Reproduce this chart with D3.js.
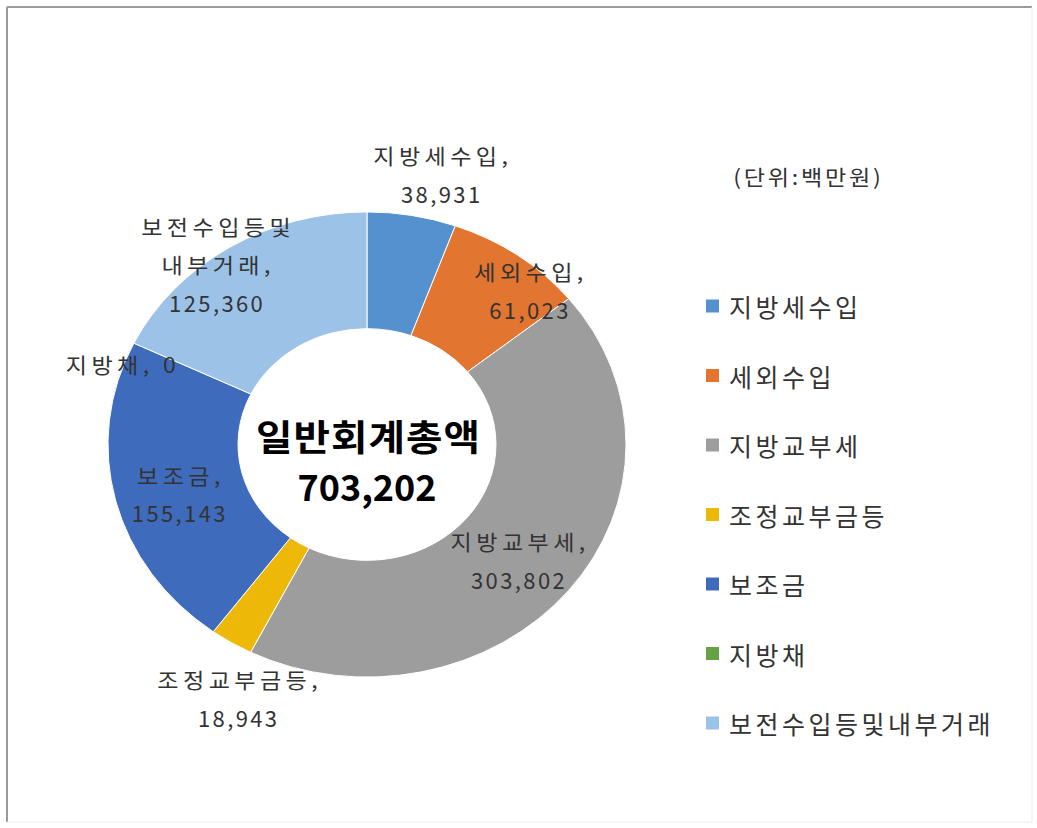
<!DOCTYPE html>
<html><head><meta charset="utf-8">
<script src="https://cdn.jsdelivr.net/npm/d3@7"></script>
<style>body{margin:0;background:#fff} svg{display:block}</style>
</head><body><svg id="c" width="1037" height="828"></svg>
<script>
const categories = ["지방세수입","세외수입","지방교부세","조정교부금등","보조금","지방채","보전수입등및내부거래"];
const values = [38931, 61023, 303802, 18943, 155143, 0, 125360];
const labelNames = [["지방세수입,"],["세외수입,"],["지방교부세,"],["조정교부금등,"],["보조금,"],["지방채,"],["보전수입등및","내부거래,"]];
const colors = ["#5591CF","#E27530","#9D9D9D","#EEB808","#3F6BBC","#66A244","#9CC2E8"];
const centerTitle = "일반회계총액";
const unitLabel = "(단위:백만원)";

const W = 1037, H = 828;
const svg = d3.select("#c");
const FONT = "'Noto Sans CJK KR','Noto Sans',sans-serif";
const fmt = d3.format(",");
const total = d3.sum(values);
const SX = 1.1; // horizontal stretch seen in the reference text

// frame
svg.append("line").attr("x1",7).attr("y1",7).attr("x2",1032).attr("y2",7).attr("stroke","#9a9a9a").attr("stroke-width",2);
svg.append("line").attr("x1",7).attr("y1",7).attr("x2",7).attr("y2",822).attr("stroke","#9a9a9a").attr("stroke-width",2);
svg.append("line").attr("x1",1032).attr("y1",7).attr("x2",1032).attr("y2",822).attr("stroke","#ececec").attr("stroke-width",1);
svg.append("line").attr("x1",7).attr("y1",822).attr("x2",1032).attr("y2",822).attr("stroke","#ececec").attr("stroke-width",1);

// donut geometry (reference is horizontally stretched -> vertical squash factor)
const cx = 367, cy = 444.5, R = 259, r0 = 129, ky = 0.898;
const pie = d3.pie().sort(null).value(d => d).startAngle(0).endAngle(2*Math.PI);
const arcs = pie(values);
const arc = d3.arc().innerRadius(r0).outerRadius(R);

const g = svg.append("g").attr("transform", `translate(${cx},${cy}) scale(1,${ky})`);
g.selectAll("path").data(arcs.filter(d => d.value > 0)).join("path")
  .attr("d", arc)
  .attr("fill", d => colors[d.index])
  .attr("stroke", "#fff").attr("stroke-width", 1)
  .attr("vector-effect","non-scaling-stroke");

function stretchedText(x, y, str, size, ls, sx, anchor, fill, weight) {
  const shift = anchor === "middle" ? ls*sx/2 : 0;
  return svg.append("text")
    .attr("transform", `translate(${x + shift},${y}) scale(${sx},1)`)
    .attr("text-anchor", anchor).attr("dominant-baseline","central")
    .attr("font-family", FONT).attr("font-size", size)
    .attr("font-weight", weight || "normal")
    .attr("letter-spacing", ls).attr("fill", fill).text(str);
}

// data labels (anchored to each slice's centroid, shifted like Excel best-fit)
const labelShift = [[40,-99],[49,-13],[0,6],[-28,105],[0,7],[-13,20],[-48,-33]];
const step = 38;
arcs.forEach((d, i) => {
  let bx, by;
  if (d.value > 0) {
    const c = arc.centroid(d);
    bx = cx + c[0]; by = cy + c[1]*ky;
  } else {
    const a = d.startAngle;
    bx = cx + R*Math.sin(a); by = cy - R*Math.cos(a)*ky;
  }
  const mx = bx + labelShift[i][0], my = by + labelShift[i][1];
  let lines;
  if (d.value === 0) lines = [{t: labelNames[i][0] + " " + fmt(d.value), num:false}];
  else lines = labelNames[i].map(t => ({t, num:false})).concat([{t: fmt(d.value), num:true}]);
  const n = lines.length;
  lines.forEach((ln, k) => {
    const y = my + (k - (n-1)/2)*step;
    if (ln.num) stretchedText(mx, y, ln.t, 22, 2.4, 1, "middle", "#333");
    else stretchedText(mx, y, ln.t, 21, 4, SX, "middle", "#333");
  });
});

// center text
stretchedText(cx + 1, 435, centerTitle, 36, 1, SX, "middle", "#000", "bold");
stretchedText(cx, 485, fmt(total), 36, 0, 1, "middle", "#000", "bold");

// unit label
stretchedText(807, 175, unitLabel, 21, 2.5, SX, "middle", "#333");

// legend
const ly = d3.scalePoint().domain(categories).range([306, 723]);
categories.forEach((c, i) => {
  const y = ly(c);
  svg.append("rect").attr("x", 706).attr("y", y - 6.5).attr("width", 13).attr("height", 13).attr("fill", colors[i]);
  stretchedText(729, y, c, 25, 3.5, 1, "start", "#333");
});
</script>
</body></html>
